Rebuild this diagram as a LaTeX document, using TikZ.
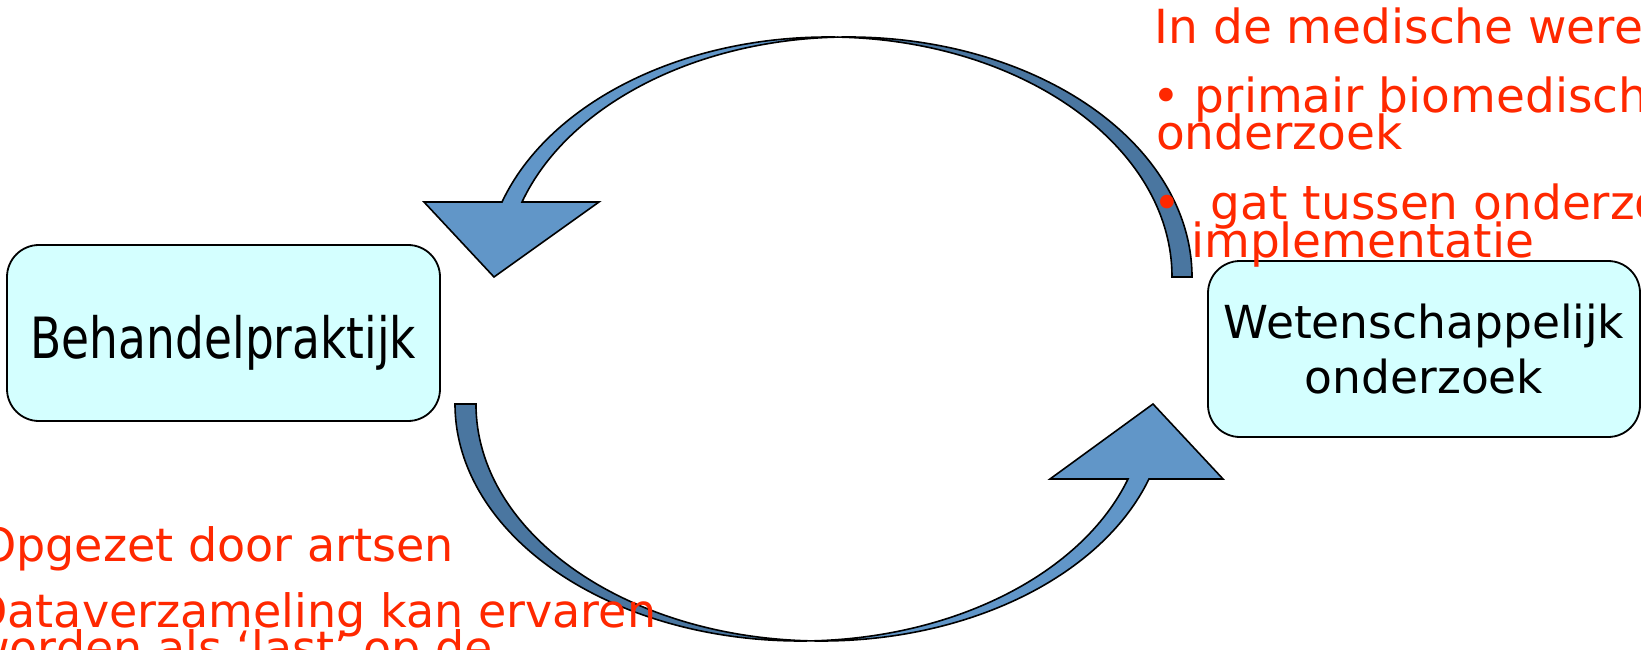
\documentclass[tikz,border=0pt]{standalone}
\usepackage{fontspec}
\setmainfont{DejaVu Sans}
\definecolor{boxfill}{RGB}{212,255,255}
\definecolor{arrlight}{RGB}{97,150,200}
\definecolor{arrdark}{RGB}{74,118,160}
\definecolor{redtxt}{RGB}{255,40,0}
\begin{document}
\begin{tikzpicture}[x=1pt,y=1pt,
  box/.style={draw=black, line width=1.8pt, fill=boxfill, rounded corners=32pt, inner sep=0pt, align=center, font=\fontsize{45.5}{55}\selectfont},
  lightpart/.style={draw=black, line width=1.6pt, fill=arrlight, line join=miter},
  darkpart/.style={draw=black, line width=1.6pt, fill=arrdark},
  redline/.style={anchor=base west, inner sep=0pt, text=redtxt, font=\fontsize{46}{46}\selectfont},
  redtop/.style={redline, font=\fontsize{47}{47}\selectfont}]

\useasboundingbox (0,0) rectangle (1641,649);

% top curved arrow (right to left)
\path[darkpart] (838.4,611.9)
  arc[start angle=91.67, end angle=0, x radius=343.6, y radius=240]
  -- (1172,372)
  arc[start angle=0, end angle=88.33, x radius=343.6, y radius=240] -- cycle;
\path[lightpart] (424,447) -- (502,447)
  arc[start angle=161.79, end angle=88.33, x radius=343.6, y radius=240]
  arc[start angle=91.67, end angle=161.79, x radius=343.6, y radius=240]
  -- (599,447) -- (494,372) -- cycle;

% bottom curved arrow (left to right)
\path[darkpart] (455,245)
  arc[start angle=180, end angle=271.74, x radius=345.4, y radius=237]
  arc[start angle=268.26, end angle=180, x radius=345.4, y radius=237] -- cycle;
\path[lightpart] (1050,170) -- (1128,170)
  arc[start angle=341.55, end angle=271.74, x radius=345.4, y radius=237]
  arc[start angle=268.26, end angle=341.55, x radius=345.4, y radius=237]
  -- (1223,170) -- (1153,245) -- cycle;

% boxes
\node[box, minimum width=433pt, minimum height=176pt] (bp) at (223.5,316)
  {\raisebox{-25pt}[0pt][0pt]{\scalebox{1}[1.25]{Behandelpraktijk}}};
\node[box, minimum width=432pt, minimum height=176pt] (wo) at (1424,300)
  {Wetenschappelijk\\onderzoek};

% red texts, top right
\node[redtop] (r1) at (1154.5,605) {In de medische wereld};
\node[redtop] (r2) at (1152,536) {• primair biomedisch};
\node[redtop] (r3) at (1156,499) {onderzoek};
\node[redtop] (r4) at (1153,429) {•\ \ gat tussen onderzoek};
\node[redtop] (r5) at (1191,391) {implementatie};

% red texts, bottom left
\node[redline] (b1) at (-20,88) {Opgezet door artsen};
\node[redline] (b2) at (-28,22) {Dataverzameling kan ervaren};
\node[redline] (b3) at (-28,-15) {worden als ‘last’ op de};
\end{tikzpicture}
\end{document}
